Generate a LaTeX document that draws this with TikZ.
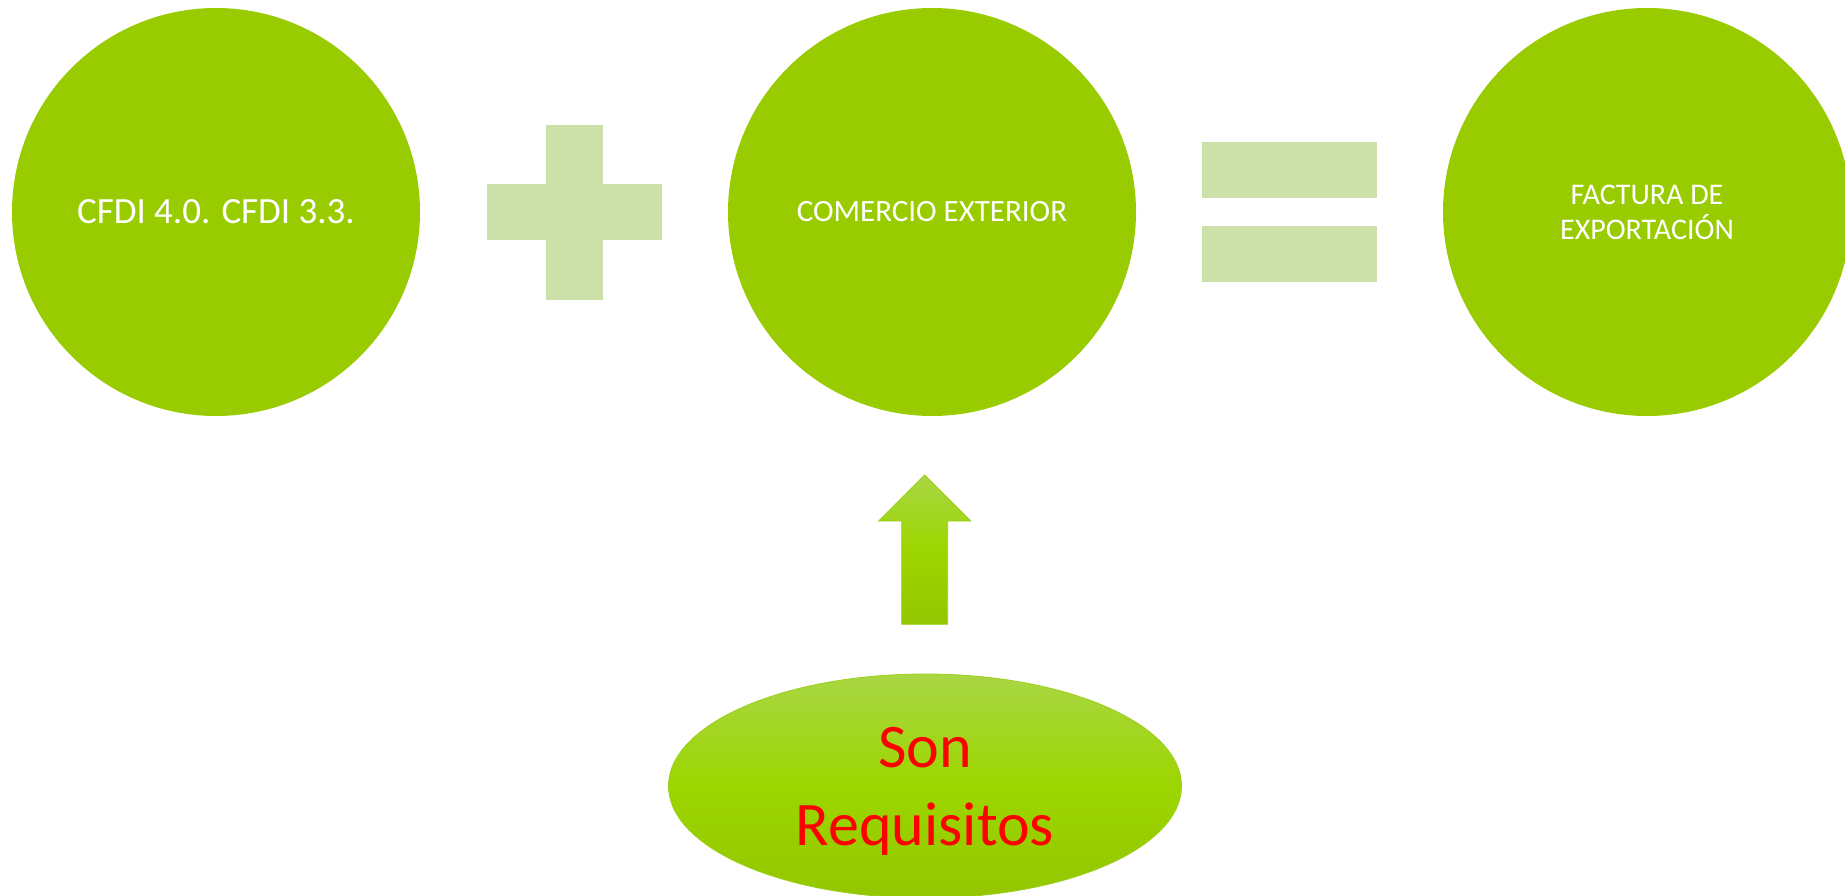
\documentclass[tikz,border=0pt]{standalone}
\usepackage{fontspec}
\setmainfont{Carlito}
\usetikzlibrary{shapes.geometric}
\definecolor{circgreen}{HTML}{99CC00}
\definecolor{opgreen}{HTML}{CCE1AA}
\definecolor{gtop}{HTML}{A9D644}
\definecolor{gmid}{HTML}{9DD600}
\definecolor{gbot}{HTML}{93C600}
\definecolor{gline}{HTML}{9CCF1C}
\definecolor{txtred}{HTML}{FF0000}
\tikzset{
  bigcircle/.style={circle, fill=circgreen, minimum size=408pt, inner sep=0pt, text=white, align=center},
  opbar/.style={fill=opgreen, draw=none},
  gradfill/.style={top color=gtop, bottom color=gbot, middle color=gmid, draw=gline, line width=0.8pt},
}
\begin{document}
\begin{tikzpicture}[x=1pt,y=-1pt]
\useasboundingbox (0,0) rectangle (1845,896);
\fill[white] (0,0) rectangle (1845,896);
\begin{scope}
\clip (0,0) rectangle (1845,896);
% circles
\node[bigcircle, font=\fontsize{37}{44}\selectfont] (c1) at (216,212) {CFDI 4.0. CFDI 3.3.};
\node[bigcircle, font=\fontsize{31}{37}\selectfont] (c2) at (932,212) {COMERCIO EXTERIOR};
\node[bigcircle, font=\fontsize{30}{35}\selectfont] (c3) at (1647,212) {FACTURA DE\\EXPORTACIÓN};
% plus
\path[opbar] (546,125) rectangle (603,300);
\path[opbar] (487,184) rectangle (662,240);
% equals
\path[opbar] (1202,142) rectangle (1377,198);
\path[opbar] (1202,226) rectangle (1377,282);
% arrow
\shade[gradfill] (924.7,475) -- (970.7,521) -- (947.7,521) -- (947.7,624.3) -- (901.7,624.3) -- (901.7,521) -- (878.7,521) -- cycle;
% ellipse
\shade[gradfill] (925,786) ellipse [x radius=256.5, y radius=112];
\node[text=txtred, align=center, font=\fontsize{62}{78}\selectfont] (req) at (925,791) {Son\\Requisitos};
\end{scope}
\end{tikzpicture}
\end{document}
